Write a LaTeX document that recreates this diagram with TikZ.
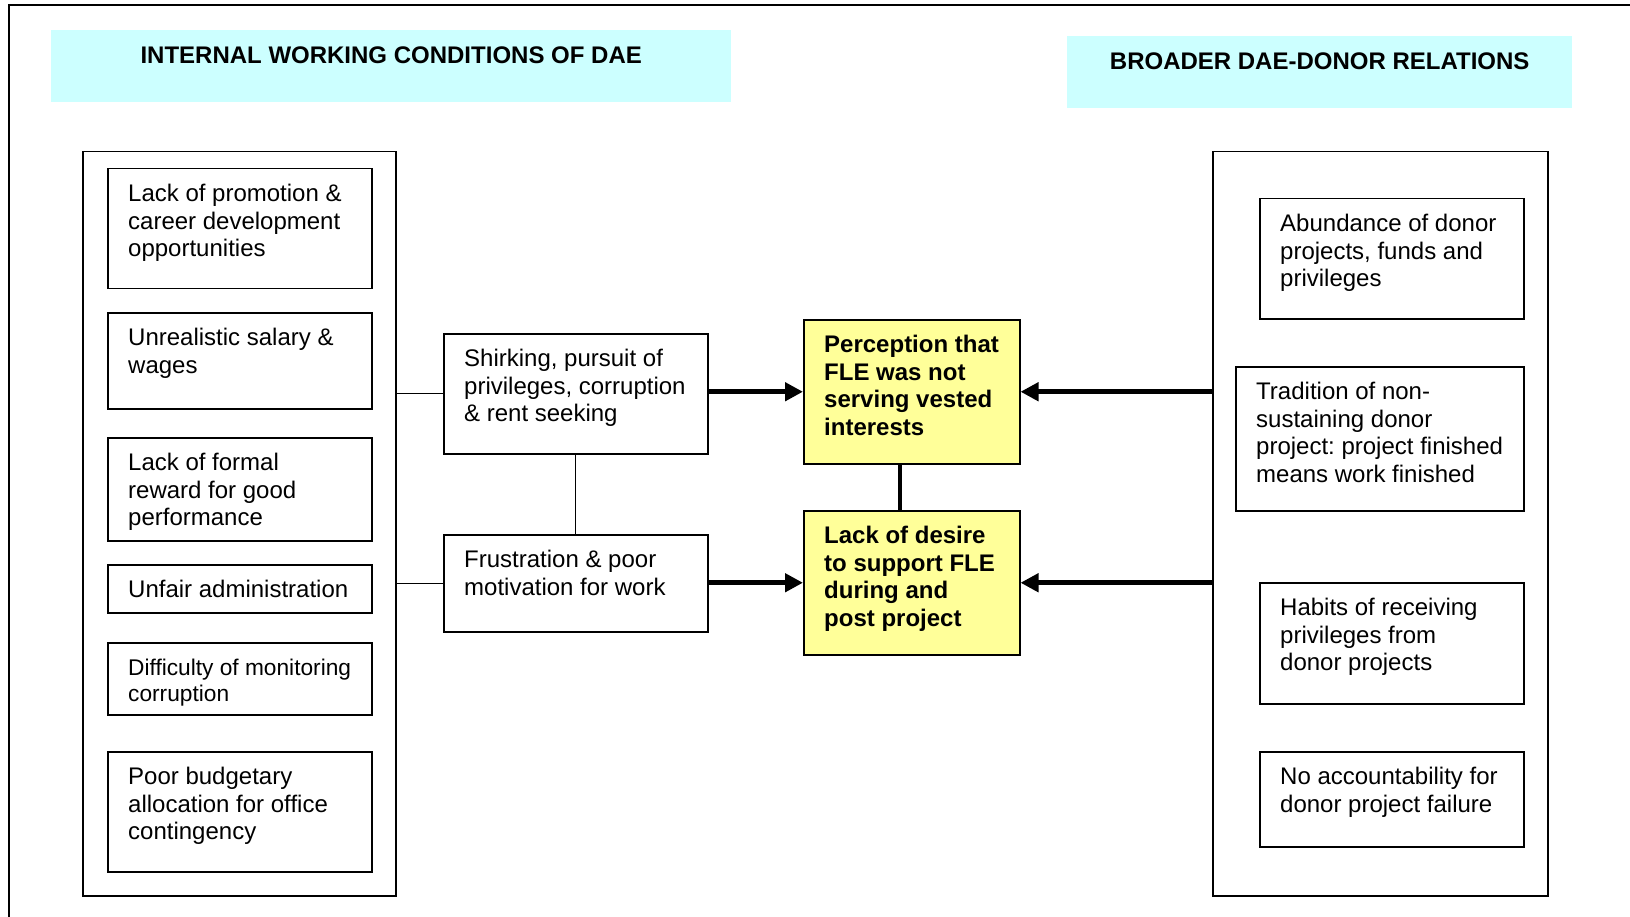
\documentclass[tikz,border=0pt]{standalone}
\usepackage{fontspec}
\setmainfont{Liberation Sans}
\usetikzlibrary{arrows.meta}
\definecolor{headcyan}{HTML}{CCFFFF}
\definecolor{keyyellow}{HTML}{FFFF99}
\frenchspacing
\begin{document}
\begin{tikzpicture}[x=1pt,y=-1pt,
  frame/.style={line width=2.2pt},
  header/.style={fill=headcyan,draw=none,inner sep=0,anchor=north west},
  group/.style={draw,line width=1.5pt,inner sep=0,anchor=north west},
  item/.style={draw,line width=1.5pt,inner sep=0,anchor=north west,fill=white},
  keybox/.style={item,fill=keyyellow},
  txt/.style={inner sep=0,anchor=north west,align=left,
    font=\fontsize{24}{27.6}\selectfont},
  smalltxt/.style={txt,font=\fontsize{22.7}{26.2}\selectfont},
  boldtxt/.style={txt,font=\fontsize{24}{27.6}\selectfont\bfseries},
  headtxt/.style={inner sep=0,anchor=north,align=center,
    font=\fontsize{24}{27.6}\selectfont\bfseries},
  link/.style={line width=1.3pt},
  flow/.style={line width=5pt,-{Triangle[length=18pt,width=18pt]}},
  bond/.style={line width=4pt}
]
\useasboundingbox (0,0) rectangle (1630,917);

% page frame (top and left edges)
\coordinate (fa) at (9,917);
\coordinate (fb) at (9,5);
\coordinate (fc) at (1630,5);
\draw[frame] (fa) -- (fb) -- (fc);

% section headers
\node[header,minimum width=680pt,minimum height=72pt] (hL) at (51,30) {};
\node[headtxt] (hLt) at ([yshift=-14.2pt]hL.north) {\strut INTERNAL WORKING CONDITIONS OF DAE};
\node[header,minimum width=505pt,minimum height=72pt] (hR) at (1067,36) {};
\node[headtxt] (hRt) at ([yshift=-14.2pt]hR.north) {\strut BROADER DAE-DONOR RELATIONS};

% group frames
\node[group,minimum width=313pt,minimum height=744pt] (gL) at (82,151) {};
\node[group,minimum width=335pt,minimum height=744pt] (gR) at (1212,151) {};

% internal conditions
\node[item,minimum width=264pt,minimum height=120pt] (l1) at (107,168) {};
\node[txt] (l1t) at ([shift={(21pt,-14.2pt)}]l1.north west) {\strut Lack of promotion \&\\career development\\opportunities};
\node[item,minimum width=264pt,minimum height=96pt] (l2) at (107,312) {};
\node[txt] (l2t) at ([shift={(21pt,-14.2pt)}]l2.north west) {\strut Unrealistic salary \&\\wages};
\node[item,minimum width=264pt,minimum height=103pt] (l3) at (107,437) {};
\node[txt] (l3t) at ([shift={(21pt,-14.2pt)}]l3.north west) {\strut Lack of formal\\reward for good\\performance};
\node[item,minimum width=264pt,minimum height=48pt] (l4) at (107,564) {};
\node[txt] (l4t) at ([shift={(21pt,-14.2pt)}]l4.north west) {\strut Unfair administration};
\node[item,minimum width=264pt,minimum height=72pt] (l5) at (107,642) {};
\node[smalltxt] (l5t) at ([shift={(21pt,-14.6pt)}]l5.north west) {\strut Difficulty of monitoring\\corruption};
\node[item,minimum width=264pt,minimum height=120pt] (l6) at (107,751) {};
\node[txt] (l6t) at ([shift={(21pt,-14.2pt)}]l6.north west) {\strut Poor budgetary\\allocation for office\\contingency};

% intermediate effects
\node[item,minimum width=264pt,minimum height=120pt] (sh) at (443,333) {};
\node[txt] (sht) at ([shift={(21pt,-14.2pt)}]sh.north west) {\strut Shirking, pursuit of\\privileges, corruption\\\& rent seeking};
\node[item,minimum width=264pt,minimum height=97pt] (fr) at (443,534) {};
\node[txt] (frt) at ([shift={(21pt,-14.2pt)}]fr.north west) {\strut Frustration \& poor\\motivation for work};

% outcomes
\node[keybox,minimum width=216pt,minimum height=144pt] (y1) at (803,319) {};
\node[boldtxt] (y1t) at ([shift={(21pt,-14.2pt)}]y1.north west) {\strut Perception that\\FLE was not\\serving vested\\interests};
\node[keybox,minimum width=216pt,minimum height=144pt] (y2) at (803,510) {};
\node[boldtxt] (y2t) at ([shift={(21pt,-14.2pt)}]y2.north west) {\strut Lack of desire\\to support FLE\\during and\\post project};

% donor relations
\node[item,minimum width=264pt,minimum height=120pt] (r1) at (1259,198) {};
\node[txt] (r1t) at ([shift={(21pt,-14.2pt)}]r1.north west) {\strut Abundance of donor\\projects, funds and\\privileges};
\node[item,minimum width=288pt,minimum height=144pt] (r2) at (1235,366) {};
\node[txt] (r2t) at ([shift={(21pt,-14.2pt)}]r2.north west) {\strut Tradition of non-\\sustaining donor\\project: project finished\\means work finished};
\node[item,minimum width=264pt,minimum height=121pt] (r3) at (1259,582) {};
\node[txt] (r3t) at ([shift={(21pt,-14.2pt)}]r3.north west) {\strut Habits of receiving\\privileges from\\donor projects};
\node[item,minimum width=264pt,minimum height=95pt] (r4) at (1259,751) {};
\node[txt] (r4t) at ([shift={(21pt,-14.2pt)}]r4.north west) {\strut No accountability for\\donor project failure};

% connectors
\draw[link] (sh.west -| gL.east) -- (sh.west);
\draw[link] (fr.west -| gL.east) -- (fr.west);
\draw[link] (sh.south) -- (fr.north);
\draw[flow] (y1.west -| sh.east) -- (y1.west);
\draw[flow] (y2.west -| fr.east) -- (y2.west);
\draw[flow] (y1.east -| gR.west) -- (y1.east);
\draw[flow] (y2.east -| gR.west) -- (y2.east);
\draw[bond] ([xshift=-12pt]y1.south) -- ([xshift=-12pt]y2.north);
\end{tikzpicture}
\end{document}
